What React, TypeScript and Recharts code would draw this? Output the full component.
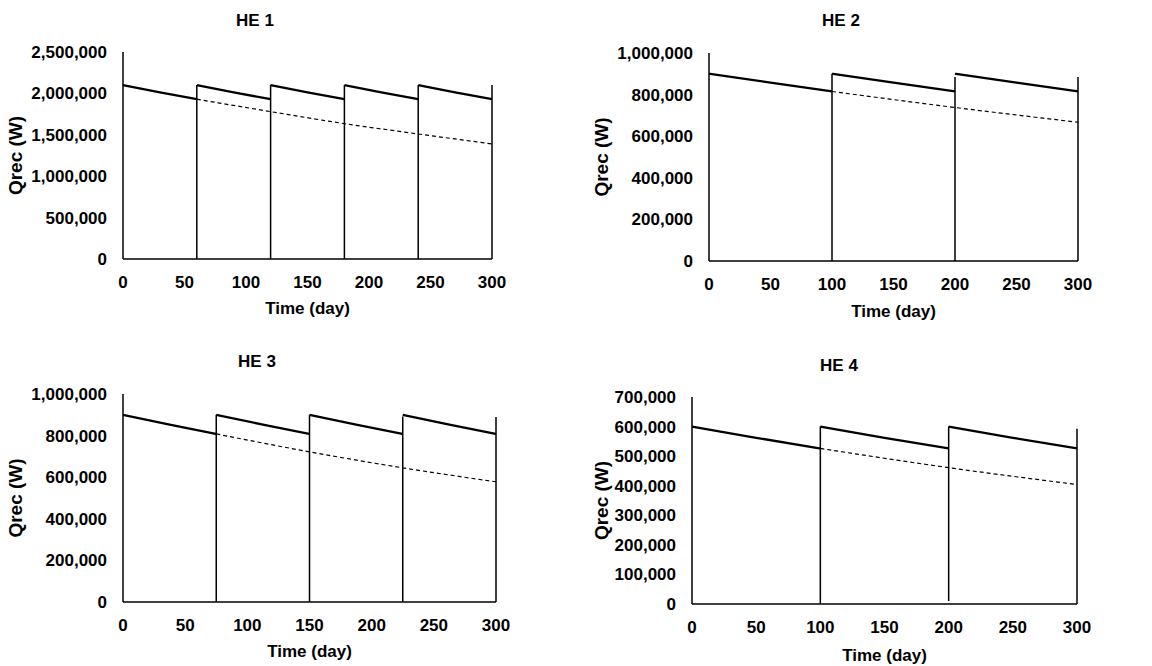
import React from 'react';
import { LineChart, Line, XAxis, YAxis, Label } from 'recharts';

// days at which the exchanger is cleaned (first value = start)
const HE1_DAYS = [0, 60, 120, 180, 240, 300];
const HE2_DAYS = [0, 100, 200, 300];
const HE3_DAYS = [0, 75, 150, 225, 300];
const HE4_DAYS = [0, 100, 200, 300];

// Qrec at start, middle and end of each cleaning cycle
const HE1_CYCLE = [2100000, 2012000, 1930000];
const HE2_CYCLE = [900000, 858000, 815000];
const HE3_CYCLE = [900000, 853000, 808000];
const HE4_CYCLE = [600000, 562000, 526000];

// no-cleaning curve, at the cleaning days after the first
const HE1_DASHED = [1930000, 1780000, 1635000, 1510000, 1390000];
const HE2_DASHED = [815000, 738000, 667000];
const HE3_DASHED = [808000, 722000, 645000, 578000];
const HE4_DASHED = [526000, 461000, 404000];

// vertical cleaning lines (bottom / top)
const HE1_CLEAN_TOP = [2100000, 2100000, 2100000, 2100000, 2100000];
const HE1_CLEAN_BOTTOM = [0, 0, 0, 0, 0];
const HE2_CLEAN_TOP = [900000, 885000, 885000];
const HE2_CLEAN_BOTTOM = [0, 0, 0];
const HE3_CLEAN_TOP = [900000, 900000, 892000, 890000];
const HE3_CLEAN_BOTTOM = [0, 0, 0, 0];
const HE4_CLEAN_TOP = [600000, 600000, 593000];
const HE4_CLEAN_BOTTOM = [0, 10000, 0];

const X_TICKS = [0, 50, 100, 150, 200, 250, 300];
const HE1_Y_TICKS = [0, 500000, 1000000, 1500000, 2000000, 2500000];
const HE2_Y_TICKS = [0, 200000, 400000, 600000, 800000, 1000000];
const HE3_Y_TICKS = [0, 200000, 400000, 600000, 800000, 1000000];
const HE4_Y_TICKS = [0, 100000, 200000, 300000, 400000, 500000, 600000, 700000];

type Pt = { x: number; y: number | null };

function sawData(days: number[], cycle: number[]): Pt[] {
  const out: Pt[] = [];
  for (let i = 0; i < days.length - 1; i++) {
    const a = days[i];
    const b = days[i + 1];
    out.push({ x: a, y: cycle[0] }, { x: (a + b) / 2, y: cycle[1] }, { x: b, y: cycle[2] }, { x: b, y: null });
  }
  return out;
}

function cleanData(days: number[], tops: number[], bottoms: number[]): Pt[] {
  const out: Pt[] = [];
  days.forEach((d, i) => {
    out.push({ x: d, y: bottoms[i] }, { x: d, y: tops[i] }, { x: d, y: null });
  });
  return out;
}

function dashedData(days: number[], vals: number[]): Pt[] {
  return days.map((d, i) => ({ x: d, y: vals[i] }));
}

const W = 576;
const H = 333;
const FONT = '"Liberation Sans", Arial, sans-serif';
const fmt = (v: number) => v.toLocaleString('en-US');

interface PanelProps {
  title: string;
  left: number;
  top: number;
  plot: { l: number; r: number; t: number; b: number };
  titlePos: [number, number];
  yLabelX: number;
  xLabelY: number;
  days: number[];
  cycle: number[];
  dashed: number[];
  cleanTop: number[];
  cleanBottom: number[];
  yTicks: number[];
}

function Panel(p: PanelProps) {
  const saw = sawData(p.days, p.cycle);
  const clean = cleanData(p.days.slice(1), p.cleanTop, p.cleanBottom);
  const dash = dashedData(p.days.slice(1), p.dashed);
  const yMax = p.yTicks[p.yTicks.length - 1];
  const xAxisH = H - p.plot.b;
  const tickStyle = { fill: '#000', fontSize: 17, fontWeight: 'bold' as const, fontFamily: FONT };

  return (
    <div style={{ position: 'absolute', left: p.left, top: p.top, width: W, height: H }}>
      <div
        style={{
          position: 'absolute',
          left: p.titlePos[0] - 60,
          top: p.titlePos[1] - 10,
          width: 120,
          height: 20,
          lineHeight: '20px',
          textAlign: 'center',
          fontSize: 17,
          fontWeight: 'bold',
          fontFamily: FONT,
          color: '#000',
        }}
      >
        {p.title}
      </div>
      <LineChart
        width={W}
        height={H}
        margin={{ top: p.plot.t, right: W - p.plot.r, bottom: 0, left: 0 }}
      >
        <XAxis
          dataKey="x"
          type="number"
          domain={[0, 300]}
          ticks={X_TICKS}
          interval={0}
          height={xAxisH}
          tickLine={false}
          tickSize={0}
          tickMargin={17}
          axisLine={{ stroke: '#000', strokeWidth: 1.5 }}
          tick={tickStyle}
        >
          <Label
            value="Time (day)"
            position="insideBottom"
            offset={H - (p.xLabelY + 6)}
            style={{ fill: '#000', fontSize: 17, fontWeight: 'bold', fontFamily: FONT }}
          />
        </XAxis>
        <YAxis
          type="number"
          domain={[0, yMax]}
          ticks={p.yTicks}
          interval={0}
          width={p.plot.l}
          tickLine={false}
          tickSize={0}
          tickMargin={16}
          tickFormatter={fmt}
          axisLine={{ stroke: '#000', strokeWidth: 1.5 }}
          tick={tickStyle}
        >
          <Label
            value="Qrec (W)"
            angle={-90}
            position="insideLeft"
            offset={p.yLabelX}
            style={{ textAnchor: 'middle', fill: '#000', fontSize: 19, fontWeight: 'bold', fontFamily: FONT }}
          />
        </YAxis>
        <Line
          data={clean}
          dataKey="y"
          type="linear"
          stroke="#000"
          strokeWidth={1.5}
          dot={false}
          activeDot={false}
          connectNulls={false}
          isAnimationActive={false}
        />
        <Line
          data={dash}
          dataKey="y"
          type="monotone"
          stroke="#000"
          strokeWidth={1.2}
          strokeDasharray="4 3"
          dot={false}
          activeDot={false}
          isAnimationActive={false}
        />
        <Line
          data={saw}
          dataKey="y"
          type="monotone"
          stroke="#000"
          strokeWidth={2.3}
          dot={false}
          activeDot={false}
          connectNulls={false}
          isAnimationActive={false}
        />
      </LineChart>
    </div>
  );
}

export default function App() {
  return (
    <div style={{ position: 'absolute', left: 0, top: 0, width: 1152, height: 666, background: '#fff', fontFamily: FONT }}>
      <Panel
        title="HE 1"
        left={0}
        top={0}
        plot={{ l: 123, r: 492, t: 52, b: 259 }}
        titlePos={[255, 21]}
        yLabelX={15}
        xLabelY={308}
        days={HE1_DAYS}
        cycle={HE1_CYCLE}
        dashed={HE1_DASHED}
        cleanTop={HE1_CLEAN_TOP}
        cleanBottom={HE1_CLEAN_BOTTOM}
        yTicks={HE1_Y_TICKS}
      />
      <Panel
        title="HE 2"
        left={576}
        top={0}
        plot={{ l: 133, r: 502, t: 53, b: 261 }}
        titlePos={[265, 21]}
        yLabelX={25}
        xLabelY={311}
        days={HE2_DAYS}
        cycle={HE2_CYCLE}
        dashed={HE2_DASHED}
        cleanTop={HE2_CLEAN_TOP}
        cleanBottom={HE2_CLEAN_BOTTOM}
        yTicks={HE2_Y_TICKS}
      />
      <Panel
        title="HE 3"
        left={0}
        top={333}
        plot={{ l: 123, r: 496, t: 61, b: 269 }}
        titlePos={[257, 29]}
        yLabelX={15}
        xLabelY={318}
        days={HE3_DAYS}
        cycle={HE3_CYCLE}
        dashed={HE3_DASHED}
        cleanTop={HE3_CLEAN_TOP}
        cleanBottom={HE3_CLEAN_BOTTOM}
        yTicks={HE3_Y_TICKS}
      />
      <Panel
        title="HE 4"
        left={576}
        top={333}
        plot={{ l: 116, r: 501, t: 64, b: 271 }}
        titlePos={[263, 33]}
        yLabelX={25}
        xLabelY={322}
        days={HE4_DAYS}
        cycle={HE4_CYCLE}
        dashed={HE4_DASHED}
        cleanTop={HE4_CLEAN_TOP}
        cleanBottom={HE4_CLEAN_BOTTOM}
        yTicks={HE4_Y_TICKS}
      />
    </div>
  );
}
